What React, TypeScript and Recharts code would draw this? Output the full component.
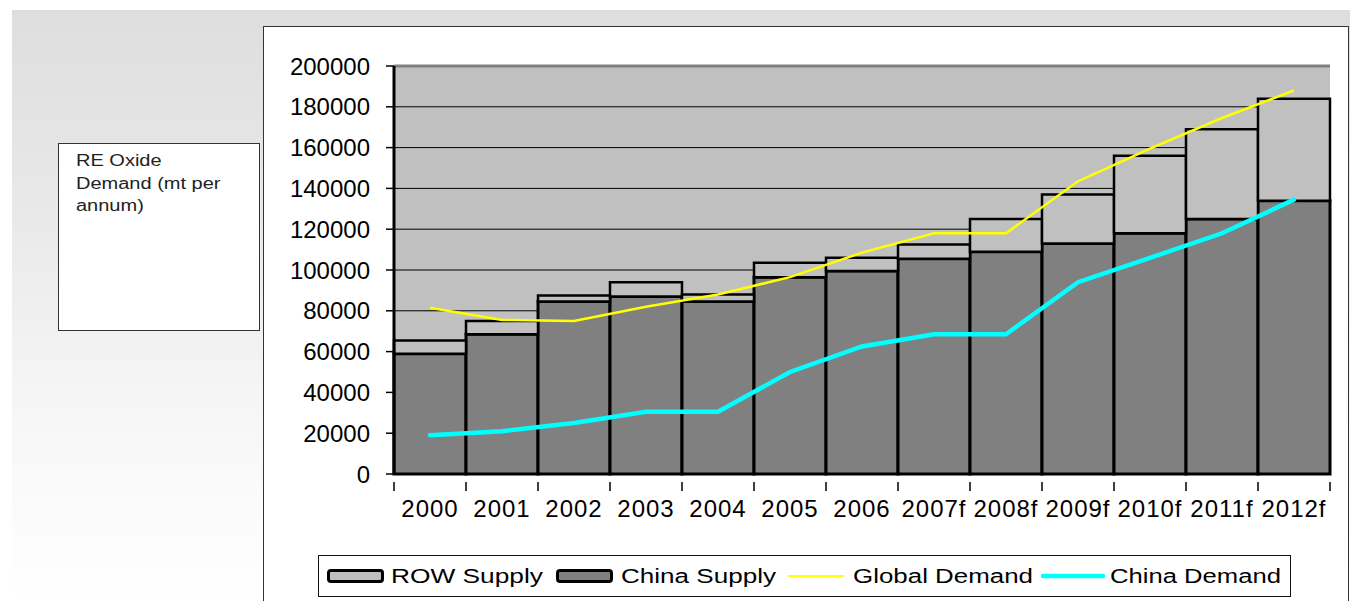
import { Bar, CartesianGrid, ComposedChart, Line, ReferenceLine, XAxis, YAxis } from "recharts";

const years = ["2000", "2001", "2002", "2003", "2004", "2005", "2006", "2007f", "2008f", "2009f", "2010f", "2011f", "2012f"];
const chinaSupply = [59000, 68500, 84500, 87000, 84500, 96500, 99500, 105500, 109000, 113000, 118000, 125000, 134000];
const rowSupply = [6500, 6500, 3000, 7000, 3500, 7000, 6500, 7000, 16000, 24000, 38000, 44000, 50000];
const globalDemand = [81500, 75500, 75000, 82000, 88000, 96500, 108500, 118000, 118000, 143500, 159500, 174500, 188000];
const chinaDemand = [19000, 21000, 25000, 30500, 30500, 50000, 62500, 68500, 68500, 94000, 106000, 118000, 134500];
const yTicks = [0, 20000, 40000, 60000, 80000, 100000, 120000, 140000, 160000, 180000, 200000];

const data = years.map((year, i) => ({
  year,
  china: chinaSupply[i],
  row: rowSupply[i],
  global: globalDemand[i],
  chinaDemand: chinaDemand[i],
}));

const FONT = '"Liberation Sans", Arial, sans-serif';

// category ticks sit between the bars, so the tick mark is shifted half a band left
function YearTick(props: any) {
  const { x, y, payload, index } = props;
  const half = payload.offset ?? 0;
  const last = index === years.length - 1;
  return (
    <g>
      <line x1={x - half} x2={x - half} y1={y - 18} y2={y - 9} stroke="#000" strokeWidth={1.5} />
      {last && <line x1={x + half} x2={x + half} y1={y - 18} y2={y - 9} stroke="#000" strokeWidth={1.5} />}
      <text x={x} y={y} dy="0.71em" textAnchor="middle" fontFamily={FONT} fontSize={24} letterSpacing={1} fill="#000">
        {payload.value}
      </text>
    </g>
  );
}

// legend entries: swatch start, label start and label width inside the legend box
const legendItems = [
  { label: "ROW Supply", kind: "box", color: "#c0c0c0", sx: 9, tx: 73, tw: 152 },
  { label: "China Supply", kind: "box", color: "#808080", sx: 238, tx: 303, tw: 155 },
  { label: "Global Demand", kind: "line", color: "#ffff00", sx: 471, tx: 535, tw: 180 },
  { label: "China Demand", kind: "line", color: "#00ffff", sx: 725, tx: 792, tw: 171 },
];

function LegendBox() {
  return (
    <svg width={973} height={42} style={{ position: "absolute", left: 318, top: 555 }}>
      <rect x={0.5} y={0.5} width={972} height={41} fill="#fff" stroke="#111" />
      {legendItems.map((item) => (
        <g key={item.label}>
          {item.kind === "box" ? (
            <rect x={item.sx + 1.5} y={15.5} width={54} height={11} rx={2.5} fill={item.color} stroke="#000" strokeWidth={3} />
          ) : (
            <line
              x1={item.sx}
              x2={item.sx + (item.color === "#00ffff" ? 60 : 54)}
              y1={21}
              y2={21}
              stroke={item.color}
              strokeWidth={item.color === "#00ffff" ? 4.5 : 2}
              strokeLinecap="round"
            />
          )}
          <text
            x={item.tx}
            y={28}
            fontFamily={FONT}
            fontSize={20}
            textLength={item.tw}
            lengthAdjust="spacingAndGlyphs"
            fill="#000"
          >
            {item.label}
          </text>
        </g>
      ))}
    </svg>
  );
}

export default function App() {
  return (
    <div style={{ position: "absolute", left: 0, top: 0, width: 1350, height: 601, overflow: "hidden", background: "#fff" }}>
      <div
        style={{
          position: "absolute",
          left: 12,
          top: 10,
          width: 1338,
          height: 591,
          background: "linear-gradient(180deg, #dedede 0%, #e9e9e9 35%, #f7f7f7 70%, #ffffff 100%)",
        }}
      />
      <div
        style={{
          position: "absolute",
          left: 58,
          top: 143,
          width: 200,
          height: 186,
          border: "1px solid #333",
          background: "#fff",
        }}
      >
        <div
          style={{
            position: "absolute",
            left: 17,
            top: 6,
            fontFamily: FONT,
            fontSize: 16,
            lineHeight: "22.5px",
            color: "#222",
            transform: "scaleX(1.25)",
            transformOrigin: "left top",
            whiteSpace: "nowrap",
          }}
        >
          RE Oxide
          <br />
          Demand (mt per
          <br />
          annum)
        </div>
      </div>
      <div
        style={{
          position: "absolute",
          left: 263,
          top: 26,
          width: 1084,
          height: 600,
          border: "1px solid #333",
          background: "#fff",
        }}
      />
      <div style={{ position: "absolute", left: 0, top: 0 }}>
        <ComposedChart
          width={1350}
          height={601}
          data={data}
          margin={{ top: 66, right: 20, bottom: 87, left: 0 }}
          barCategoryGap={0}
          barGap={0}
        >
          <CartesianGrid vertical={false} stroke="#000" strokeWidth={1} fill="#c0c0c0" fillOpacity={1} />
          <XAxis
            dataKey="year"
            height={40}
            interval={0}
            axisLine={{ stroke: "#000", strokeWidth: 2 }}
            tickLine={false}
            tickSize={0}
            tickMargin={26}
            tick={<YearTick />}
          />
          <YAxis
            width={394}
            domain={[0, 200000]}
            ticks={yTicks}
            interval={0}
            axisLine={{ stroke: "#000", strokeWidth: 3 }}
            tickLine={{ stroke: "#000", strokeWidth: 1.5 }}
            tickSize={8}
            tickMargin={16}
            tick={{ fontFamily: FONT, fontSize: 24, fill: "#000" }}
          />
          <YAxis
            yAxisId="frame"
            orientation="right"
            width={0}
            domain={[0, 200000]}
            tick={false}
            tickLine={false}
            axisLine={{ stroke: "#808080", strokeWidth: 3 }}
          />
          <ReferenceLine y={200000} stroke="#808080" strokeWidth={3} />
          <Bar dataKey="china" name="China Supply" stackId="supply" fill="#808080" stroke="#000" strokeWidth={3} isAnimationActive={false} />
          <Bar dataKey="row" name="ROW Supply" stackId="supply" fill="#c0c0c0" stroke="#000" strokeWidth={2.5} isAnimationActive={false} />
          <Line
            type="linear"
            dataKey="global"
            name="Global Demand"
            stroke="#ffff00"
            strokeWidth={2.5}
            dot={false}
            isAnimationActive={false}
          />
          <Line
            type="linear"
            dataKey="chinaDemand"
            name="China Demand"
            stroke="#00ffff"
            strokeWidth={4.5}
            strokeLinecap="round"
            dot={false}
            isAnimationActive={false}
          />
        </ComposedChart>
      </div>
      <LegendBox />
    </div>
  );
}
